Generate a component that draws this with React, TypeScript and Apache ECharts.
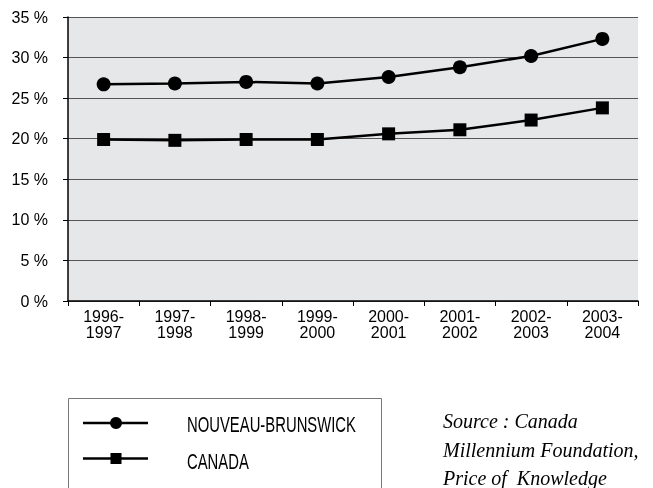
import React, { useEffect, useRef } from "react";
import * as echarts from "echarts";

const categories = ["1996-\n1997", "1997-\n1998", "1998-\n1999", "1999-\n2000", "2000-\n2001", "2001-\n2002", "2002-\n2003", "2003-\n2004"];
const nouveauBrunswick = [26.7, 26.8, 27.0, 26.8, 27.6, 28.8, 30.2, 32.3];
const canada = [19.9, 19.8, 19.9, 19.9, 20.6, 21.1, 22.3, 23.8];
const seriesNames = ["NOUVEAU-BRUNSWICK", "CANADA"];
const sourceLines = ["Source : Canada", "Millennium Foundation,", "Price of  Knowledge"];

const FONT = "'Liberation Sans', Arial, sans-serif";
const SERIF = "'Liberation Serif', 'DejaVu Serif', serif";

export default function App() {
  const ref = useRef<HTMLDivElement>(null);
  useEffect(() => {
    if (!ref.current) return;
    const chart = echarts.init(ref.current, null, { renderer: "svg" });
    const markerY = [423, 458.5];
    const textY = [424, 461];
    const legendGraphics: any[] = [
      {
        type: "rect",
        shape: { x: 68.5, y: 398.5, width: 313, height: 100 },
        style: { fill: "#fff", stroke: "#777", lineWidth: 1 },
      },
    ];
    markerY.forEach((y, i) => {
      legendGraphics.push({
        type: "line",
        shape: { x1: 83, y1: y, x2: 148, y2: y },
        style: { stroke: "#000", lineWidth: 2.5 },
      });
      if (i === 0) {
        legendGraphics.push({ type: "circle", shape: { cx: 116, cy: y, r: 6 }, style: { fill: "#000" } });
      } else {
        legendGraphics.push({ type: "rect", shape: { x: 110.5, y: y - 5.5, width: 11, height: 11 }, style: { fill: "#000" } });
      }
      legendGraphics.push({
        type: "text",
        x: 187,
        y: textY[i],
        scaleX: 0.675,
        style: { text: seriesNames[i], fill: "#000", font: `22px ${FONT}`, textVerticalAlign: "middle" },
      });
    });
    sourceLines.forEach((t, i) => {
      legendGraphics.push({
        type: "text",
        x: 443,
        y: 421 + i * 28.5,
        style: { text: t, fill: "#000", font: `italic 20px ${SERIF}`, textVerticalAlign: "middle" },
      });
    });

    chart.setOption({
      animation: false,
      grid: {
        left: 68,
        right: 15,
        top: 17,
        bottom: 187,
        show: true,
        backgroundColor: "#e6e7e9",
        borderWidth: 0,
      },
      xAxis: {
        type: "category",
        data: categories,
        boundaryGap: true,
        axisLine: { lineStyle: { color: "#000", width: 1.5 } },
        axisTick: { show: true, length: 5, lineStyle: { color: "#000" } },
        axisLabel: { color: "#000", fontSize: 16, fontFamily: FONT, lineHeight: 16.5, margin: 7 },
        splitLine: { show: false },
      },
      yAxis: {
        type: "value",
        min: 0,
        max: 35,
        interval: 5,
        axisLine: { show: true, lineStyle: { color: "#000", width: 1.5 } },
        axisTick: { show: true, length: 5, lineStyle: { color: "#000" } },
        axisLabel: { color: "#000", fontSize: 16, fontFamily: FONT, margin: 20, formatter: "{value} %" },
        splitLine: { show: true, lineStyle: { color: "#555", width: 1 } },
      },
      series: [
        {
          name: seriesNames[0],
          type: "line",
          data: nouveauBrunswick,
          symbol: "circle",
          symbolSize: 14,
          lineStyle: { color: "#000", width: 2.5 },
          itemStyle: { color: "#000" },
        },
        {
          name: seriesNames[1],
          type: "line",
          data: canada,
          symbol: "rect",
          symbolSize: 13,
          lineStyle: { color: "#000", width: 2.5 },
          itemStyle: { color: "#000" },
        },
      ],
      graphic: legendGraphics,
    });
    return () => chart.dispose();
  }, []);
  return <div ref={ref} style={{ position: "fixed", left: 0, top: 0, width: 653, height: 488 }} />;
}
